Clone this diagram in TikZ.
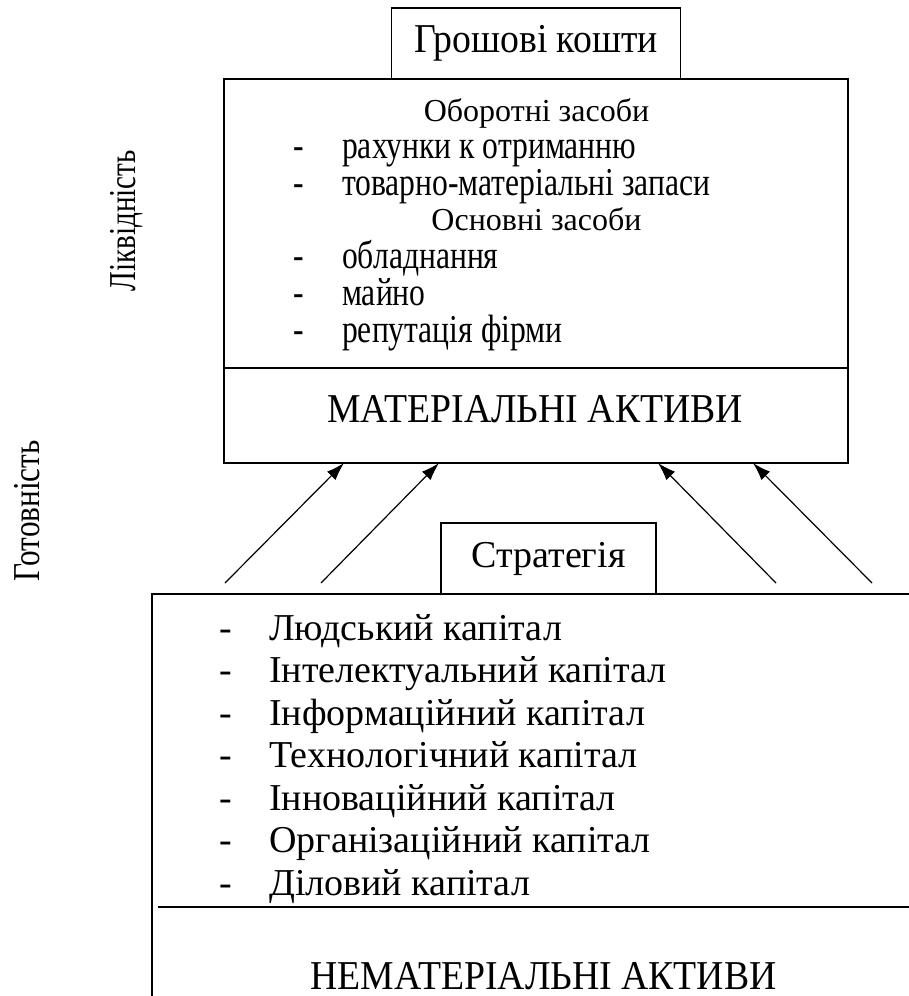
\documentclass[tikz,border=0pt]{standalone}
\usepackage{fontspec}
\setmainfont{Liberation Serif}
\newfontfamily\itemfont{Liberation Serif}[FakeStretch=0.8]
\newfontfamily\labelfont{Liberation Serif}[FakeStretch=0.92]
\usetikzlibrary{positioning,arrows.meta}

\begin{document}
\begin{tikzpicture}[x=1pt, y=-1pt, node distance=0pt,
    box/.style={draw, line width=1.3pt, inner sep=0pt, outer sep=0pt},
    big/.style={font=\labelfont\fontsize{41}{45}\selectfont},
    head/.style={anchor=base, inner sep=0pt, font=\fontsize{32}{36}\selectfont},
    item/.style={anchor=base west, inner sep=0pt, text height=21pt, text depth=7pt,
                 font=\itemfont\fontsize{39.5}{44}\selectfont},
    itemb/.style={anchor=base west, inner sep=0pt, font=\fontsize{38}{42}\selectfont},
    side/.style={rotate=90, inner sep=0pt, font=\fontsize{38}{42}\selectfont},
    arr/.style={-{Latex[length=18pt,width=12pt]}, line width=1.2pt}]
  \useasboundingbox (0,0) rectangle (909,996);
  \clip (0,0) rectangle (909,996);

  % material assets
  \node[box, minimum width=624pt, minimum height=289pt, anchor=north west] (T) at (224,79) {};
  \node[box, minimum width=624pt, minimum height=95pt, below=of T] (M) {};
  \node[box, big, minimum width=289pt, minimum height=71pt, above=of T] (C) {Грошові кошти};
  \node[big, anchor=base] (MA) at (535,422) {МАТЕРІАЛЬНІ АКТИВИ};

  \node[head] (H1) at (536.5,121) {Оборотні засоби};
  \node[item] (R1) at (293,158.5) {\makebox[49pt][l]{-}рахунки к отриманню};
  \node[item] (R2) at (293,195) {\makebox[49pt][l]{-}товарно-матеріальні запаси};
  \node[head] (H2) at (536.5,230) {Основні засоби};
  \node[item] (R3) at (293,268) {\makebox[49pt][l]{-}обладнання};
  \node[item] (R4) at (293,305) {\makebox[49pt][l]{-}майно};
  \node[item] (R5) at (293,342) {\makebox[49pt][l]{-}репутація фірми};

  % intangible assets
  \node[box, minimum width=782pt, minimum height=500pt, anchor=north west] (I) at (152,594) {};
  \node[box, minimum width=215pt, minimum height=71pt, anchor=south west,
        font=\fontsize{38}{42}\selectfont] (S) at (441,594) {Стратегія};
  \node[big, anchor=base] (NA) at (543.5,989) {НЕМАТЕРІАЛЬНІ АКТИВИ};
  \coordinate (D) at (158,907);
  \draw[line width=1.3pt] (D) -- (D -| I.east);

  \node[itemb] (K1) at (219,640) {\makebox[50pt][l]{-}Людський капітал};
  \node[itemb] (K2) at (219,682.5) {\makebox[50pt][l]{-}Інтелектуальний капітал};
  \node[itemb] (K3) at (219,725) {\makebox[50pt][l]{-}Інформаційний капітал};
  \node[itemb] (K4) at (219,767.5) {\makebox[50pt][l]{-}Технологічний капітал};
  \node[itemb] (K5) at (219,810) {\makebox[50pt][l]{-}Інноваційний капітал};
  \node[itemb] (K6) at (219,852.5) {\makebox[50pt][l]{-}Організаційний капітал};
  \node[itemb] (K7) at (219,895) {\makebox[50pt][l]{-}Діловий капітал};

  % side labels
  \node[side] (L) at (126.5,221) {\scalebox{0.767}[1]{Ліквідність}};
  \node[side] (G) at (27.5,511) {\scalebox{0.823}[1]{Готовність}};

  % arrows
  \coordinate (A1) at (225,583);
  \coordinate (A2) at (321,583);
  \coordinate (A3) at (776,583);
  \coordinate (A4) at (872,583);
  \draw[arr] (A1) -- ([xshift=120pt]M.south west);
  \draw[arr] (A2) -- ([xshift=215pt]M.south west);
  \draw[arr] (A3) -- ([xshift=434pt]M.south west);
  \draw[arr] (A4) -- ([xshift=529pt]M.south west);
\end{tikzpicture}
\end{document}
